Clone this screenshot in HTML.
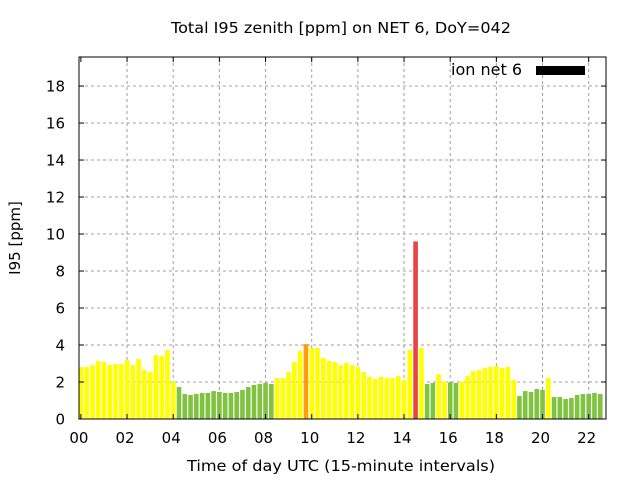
<!DOCTYPE html>
<html><head><meta charset="utf-8"><style>
html,body{margin:0;padding:0;background:#fff;}
svg{display:block;font-family:"DejaVu Sans","Liberation Sans",sans-serif;}
</style></head><body>
<svg id="chart" width="640" height="480" viewBox="0 0 640 480" xmlns="http://www.w3.org/2000/svg">
<rect width="640" height="480" fill="#fff"/>
<text x="341" y="33" font-size="15" text-anchor="middle" textLength="340" lengthAdjust="spacingAndGlyphs">Total I95 zenith [ppm] on NET 6, DoY=042</text>
<text transform="translate(20,238) rotate(-90)" font-size="15" text-anchor="middle">I95 [ppm]</text>
<text x="341" y="471" font-size="15" text-anchor="middle" textLength="308" lengthAdjust="spacingAndGlyphs">Time of day UTC (15-minute intervals)</text>
<g id="grid"></g>
<g id="bars"></g>
<g id="axes"></g>
<g>
<text x="522" y="75" font-size="16" text-anchor="end">ion net 6</text>
<rect x="536" y="66" width="49" height="9" fill="#000"/>
</g>
</svg>
<script>
const values = [2.81,2.81,2.92,3.13,3.08,2.92,2.97,2.97,3.19,2.92,3.24,2.65,2.54,3.46,3.41,3.73,2.02,1.73,1.35,1.30,1.35,1.41,1.41,1.51,1.46,1.41,1.41,1.46,1.57,1.73,1.84,1.89,1.95,1.89,2.22,2.22,2.54,3.08,3.68,4.05,3.84,3.84,3.30,3.14,3.08,2.92,3.03,2.92,2.81,2.54,2.27,2.16,2.27,2.22,2.22,2.32,2.11,3.73,9.6,3.84,1.89,1.95,2.43,2.02,1.98,1.95,2.02,2.32,2.59,2.65,2.76,2.81,2.86,2.76,2.81,2.11,1.24,1.51,1.46,1.62,1.57,2.22,1.19,1.19,1.08,1.14,1.30,1.35,1.35,1.41,1.35];
const yTicks = [0,2,4,6,8,10,12,14,16,18];
const xTicks = [0,2,4,6,8,10,12,14,16,18,20,22];
const xTickLabels = ["00","02","04","06","08","10","12","14","16","18","20","22"];
const slotHours = 0.25;

const L=79,R=606,T=57,B=419;
const tMin=-0.082, tMax=22.75, yMax=19.57;
const xs=t=>L+(t-tMin)/(tMax-tMin)*(R-L);
const ys=v=>B-v/yMax*(B-T);
const NS="http://www.w3.org/2000/svg";
function mk(tag,attrs,parent){const e=document.createElementNS(NS,tag);for(const k in attrs)e.setAttribute(k,attrs[k]);parent.appendChild(e);return e;}
const grid=document.getElementById('grid'),bars=document.getElementById('bars'),axes=document.getElementById('axes');
function color(v){if(v>=6)return"#e84444";if(v>=4)return"#ff9d12";if(v>=2)return"#ffff00";return"#80c341";}
const bw=(xs(slotHours)-xs(0))*0.8;
yTicks.forEach(v=>{if(v===0)return;const y=ys(v);
 const g=mk('line',{x1:L,x2:R,y1:y,y2:y,stroke:"#a0a0a0","stroke-width":1,"stroke-dasharray":"3,3"},grid);
 
 });
xTicks.forEach(t=>{if(t===0)return;const x=xs(t);
 const g=mk('line',{x1:x,x2:x,y1:T,y2:B,stroke:"#a0a0a0","stroke-width":1,"stroke-dasharray":"3,3"},grid);
 
 });
values.forEach((v,i)=>{const c=xs(i*slotHours);let x0=c-bw/2,x1=c+bw/2;x0=Math.max(x0,L);x1=Math.min(x1,R);
 if(x1<=x0)return;
 const r=mk('rect',{x:x0,y:ys(v),width:x1-x0,height:B-ys(v),fill:color(v)},bars);
 
 });
const f=mk('rect',{x:L,y:T,width:R-L,height:B-T,fill:"none",stroke:"#000","stroke-width":1},axes);


yTicks.forEach(v=>{const y=ys(v);
 mk('line',{x1:L,x2:L+5,y1:y,y2:y,stroke:"#000"},axes);
 mk('line',{x1:R,x2:R-5,y1:y,y2:y,stroke:"#000"},axes);
 const t=mk('text',{x:65,y:y+5.5,"font-size":15,"text-anchor":"end"},axes);t.textContent=String(v);
 
 });
xTicks.forEach((tv,i)=>{const x=xs(tv);
 mk('line',{x1:x,x2:x,y1:B,y2:B-5,stroke:"#000"},axes);
 mk('line',{x1:x,x2:x,y1:T,y2:T+5,stroke:"#000"},axes);
 const t=mk('text',{x:x-2,y:443,"font-size":15,"text-anchor":"middle"},axes);t.textContent=xTickLabels[i];
 
 });
</script>
</body></html>
